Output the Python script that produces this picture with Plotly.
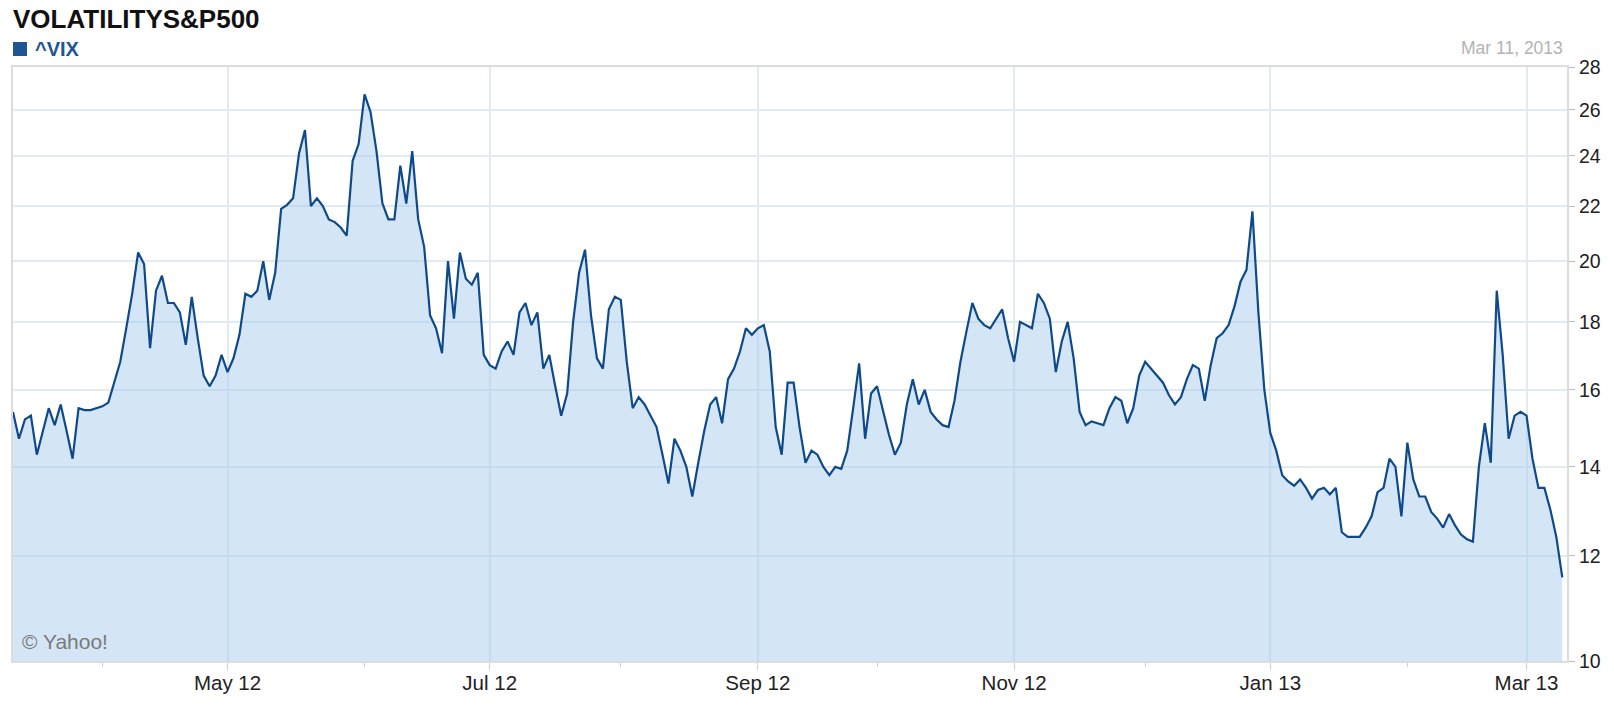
import math
import pandas as pd
import plotly.graph_objects as go

# ---- data ----
start_date = "2012-03-12"
end_date = "2013-03-11"
vix = [
    15.4, 14.7, 15.2, 15.3, 14.3, 14.9, 15.5, 15.05, 15.6, 14.9,
    14.2, 15.5, 15.45, 15.45, 15.5, 15.55, 15.65, 16.2, 16.8, 17.8,
    18.9, 20.3, 19.9, 17.2, 19.0, 19.5, 18.6, 18.6, 18.3, 17.3,
    18.8, 17.5, 16.4, 16.1, 16.4, 17.0, 16.5, 16.9, 17.6, 18.9,
    18.8, 19.0, 20.0, 18.7, 19.6, 21.9, 22.05, 22.3, 24.1, 25.1,
    22.0, 22.3, 22.0, 21.5, 21.4, 21.2, 20.9, 23.8, 24.5, 26.7,
    25.9, 24.2, 22.1, 21.5, 21.5, 23.6, 22.1, 24.2, 21.5, 20.5,
    18.2, 17.8, 17.05, 20.0, 18.1, 20.3, 19.4, 19.2, 19.6, 17.0,
    16.7, 16.6, 17.1, 17.4, 17.0, 18.3, 18.6, 17.9, 18.3, 16.6,
    17.0, 16.1, 15.3, 15.9, 18.0, 19.6, 20.4, 18.2, 16.9, 16.6,
    18.4, 18.8, 18.7, 16.8, 15.5, 15.8, 15.6, 15.3, 15.0, 14.3,
    13.6, 14.7, 14.4, 14.0, 13.3, 14.1, 14.9, 15.6, 15.8, 15.1,
    16.3, 16.6, 17.1, 17.8, 17.6, 17.8, 17.9, 17.1, 15.0, 14.3,
    16.2, 16.2, 15.0, 14.1, 14.4, 14.3, 14.0, 13.8, 14.0, 13.95,
    14.4, 15.5, 16.75, 14.7, 15.9, 16.1, 15.4, 14.8, 14.3, 14.6,
    15.6, 16.3, 15.6, 16.0, 15.4, 15.2, 15.05, 15.0, 15.7, 16.8,
    17.7, 18.6, 18.1, 17.9, 17.8, 18.1, 18.4, 17.5, 16.8, 18.0,
    17.9, 17.8, 18.9, 18.6, 18.1, 16.5, 17.4, 18.0, 16.9, 15.4,
    15.05, 15.15, 15.1, 15.05, 15.5, 15.8, 15.7, 15.1, 15.5, 16.4,
    16.8, 16.6, 16.4, 16.2, 15.85, 15.6, 15.8, 16.3, 16.7, 16.6,
    15.7, 16.7, 17.5, 17.65, 17.9, 18.5, 19.3, 19.7, 21.8, 18.3,
    16.0, 14.85, 14.4, 13.8, 13.65, 13.55, 13.7, 13.5, 13.25, 13.45,
    13.5, 13.35, 13.5, 12.5, 12.4, 12.4, 12.4, 12.6, 12.85, 13.4,
    13.5, 14.2, 14.0, 12.85, 14.6, 13.7, 13.3, 13.3, 12.95, 12.8,
    12.6, 12.9, 12.65, 12.45, 12.35, 12.3, 14.0, 15.1, 14.1, 19.0,
    17.0, 14.7, 15.3, 15.4, 15.3, 14.2, 13.5, 13.5, 13.0, 12.4,
    11.56,
]
dates = pd.bdate_range(start_date, end_date)
assert len(dates) == len(vix)

# first weekday of each month (weekends are removed from the axis)
x_tick_dates = ["2012-05-01", "2012-07-02", "2012-09-03", "2012-11-01", "2013-01-01", "2013-03-01"]
x_tick_labels = ["May 12", "Jul 12", "Sep 12", "Nov 12", "Jan 13", "Mar 13"]
x_minor_dates = ["2012-04-02", "2012-06-01", "2012-08-01", "2012-10-01", "2012-12-03", "2013-02-01"]
y_ticks = [10, 12, 14, 16, 18, 20, 22, 24, 26, 28]

FONT = "Liberation Sans, Arial, sans-serif"
LINE = "#0e4a8a"

fig = go.Figure()
fig.add_trace(go.Scatter(
    x=dates, y=vix, mode="lines", name="^VIX",
    line=dict(color=LINE, width=2.2),
    fill="tozeroy", fillcolor="rgba(160,200,232,0.45)",
))

W, H = 1614, 722
ml, mr, mt, mb = 13, 47, 67, 61
ph = H - mt - mb
pw = W - ml - mr

fig.update_layout(
    width=W, height=H,
    margin=dict(l=ml, r=mr, t=mt, b=mb, pad=0),
    paper_bgcolor="white", plot_bgcolor="white",
    showlegend=False,
    font=dict(family=FONT, size=19, color="#222"),
    xaxis=dict(
        type="date",
        range=["2012-03-12", "2013-03-11 19:00"],
        rangebreaks=[dict(bounds=["sat", "mon"])],
        tickmode="array", tickvals=x_tick_dates, ticktext=x_tick_labels,
        ticks="outside", ticklen=7, tickcolor="#cfcfcf", tickwidth=1,
        ticklabelstandoff=-5,
        tickfont=dict(size=20.5, color="#222", family=FONT),
        showgrid=True, gridcolor="#e2eaf2", gridwidth=2,
        showline=True, linecolor="#dcdcdc", linewidth=2, mirror=True,
        zeroline=False,
        minor=dict(tickmode="array", tickvals=x_minor_dates, ticks="outside",
                   ticklen=4, tickcolor="#cfcfcf", showgrid=False),
    ),
    yaxis=dict(
        type="log", side="right",
        range=[math.log10(10), math.log10(28)],
        tickmode="array", tickvals=y_ticks, ticktext=[str(v) for v in y_ticks],
        ticks="outside", ticklen=6, tickcolor="#bdbdbd", tickwidth=1,
        tickfont=dict(size=19.5, color="#222", family=FONT),
        showgrid=True, gridcolor="#e2eaf2", gridwidth=2,
        showline=True, linecolor="#dcdcdc", linewidth=2, mirror=True,
        zeroline=False,
    ),
)

def py(pixel_y):
    return (H - mb - pixel_y) / ph

def px(pixel_x):
    return (pixel_x - ml) / pw

fig.add_annotation(text="<b>VOLATILITYS&P500</b>", xref="paper", yref="paper",
                   x=px(11), y=py(19), xanchor="left", yanchor="middle",
                   showarrow=False, font=dict(size=26, color="#111", family=FONT))
fig.add_annotation(text="<b>^VIX</b>", xref="paper", yref="paper",
                   x=px(33), y=py(49), xanchor="left", yanchor="middle",
                   showarrow=False, font=dict(size=20, color="#1d5596", family=FONT))
fig.add_annotation(text="Mar 11, 2013", xref="paper", yref="paper",
                   x=px(1565), y=py(48), xanchor="right", yanchor="middle",
                   showarrow=False, font=dict(size=17.5, color="#b3b3b3", family=FONT))
fig.add_annotation(text="© Yahoo!", xref="paper", yref="paper",
                   x=px(20), y=py(641), xanchor="left", yanchor="middle",
                   showarrow=False, font=dict(size=21, color="#7a7a7a", family=FONT))
fig.add_shape(type="rect", xref="paper", yref="paper",
              x0=px(13), x1=px(27), y0=py(56), y1=py(42),
              line=dict(width=0), fillcolor="#1d5596")

fig.write_html("out.html", config={"displayModeBar": False},
               post_script="document.body.style.margin='0px';document.body.style.overflow='hidden';")
